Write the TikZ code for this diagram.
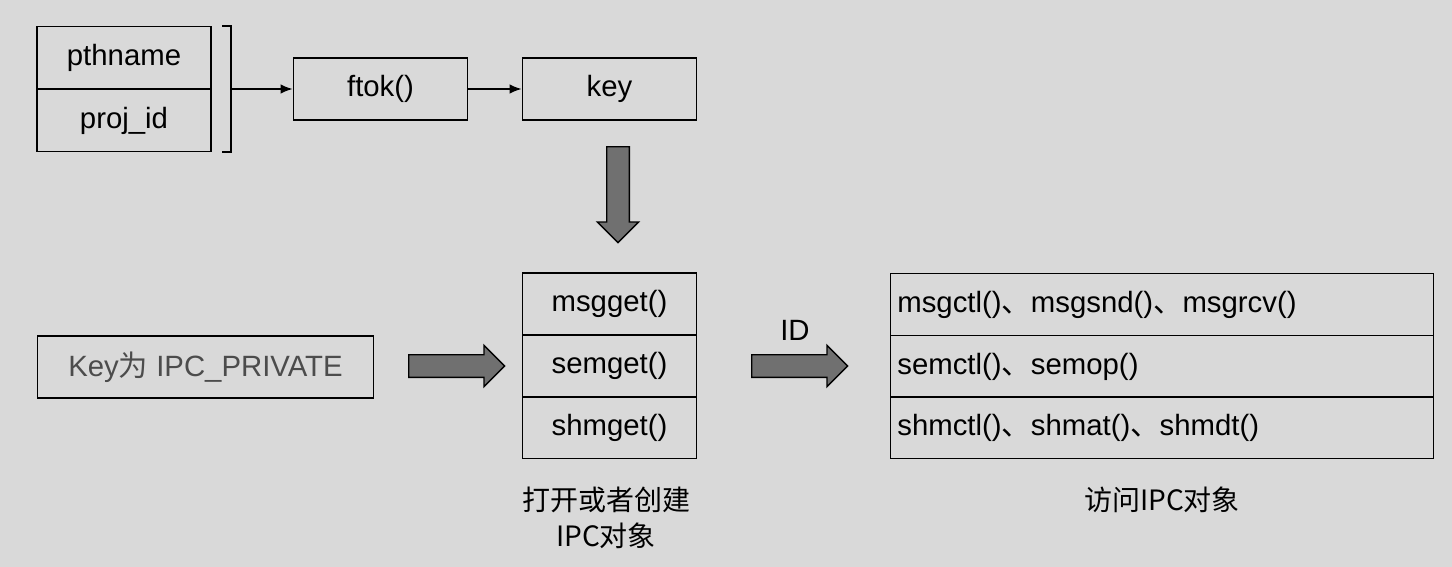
\documentclass[tikz,border=0pt]{standalone}
\usepackage{fontspec}
\setmainfont{Liberation Sans}
\newfontfamily\cjk{Noto Sans CJK SC}
\usetikzlibrary{shapes.arrows,positioning,arrows.meta}
\definecolor{bg}{HTML}{D9D9D9}
\definecolor{fat}{HTML}{707070}
\begin{document}
\begin{tikzpicture}[x=0.75pt,y=-0.75pt,
    font=\fontsize{22}{26}\selectfont,
    cell/.style={draw, line width=1.2pt, minimum width=130.5pt, minimum height=46.5pt, inner sep=0pt},
    wide/.style={draw, line width=1.2pt, minimum width=407pt, minimum height=46.5pt, inner sep=0pt, text width=397pt, align=left},
    fatarrow/.style={single arrow, draw, line width=1pt, fill=fat, minimum height=72pt, minimum width=30pt, single arrow head extend=7pt, inner sep=8pt}]
    \fill[bg] (0,0) rectangle (1452,567);

    % inputs of ftok
    \node [cell] (pth) at (124,57.5) {pthname};
    \node [cell] (proj) at (124,120.5) {proj\_id};
    \draw [line width=1.2pt] (222,26) -- (231,26) -- (231,152) -- (222,152);
    \coordinate (brk) at (231,89);

    % key generation
    \node [cell] (ftok) at (380.5,89) {ftok()};
    \node [cell] (key) at (609.5,89) {key};
    \draw [-{Latex[length=9pt,width=7pt]}, line width=1.2pt] (brk) -- (ftok);
    \draw [-{Latex[length=9pt,width=7pt]}, line width=1.2pt] (ftok) -- (key);

    % get functions
    \node [cell] (msgget) at (609.5,304) {msgget()};
    \node [cell] (semget) at (609.5,366) {semget()};
    \node [cell] (shmget) at (609.5,427.5) {shmget()};
    \node [fatarrow, shape border rotate=270] (down) at (618,189) {};

    % private key
    \node [draw, line width=1.2pt, minimum width=252pt, minimum height=46.5pt, text=black!70] (priv) at (205.5,367) {Key{\cjk 为} IPC\_PRIVATE};
    \node [fatarrow] (right1) at (451,366) {};

    % access functions
    \node [wide] (msgctl) at (1162,304.5) {msgctl(){\cjk 、}msgsnd(){\cjk 、}msgrcv()};
    \node [wide] (semctl) at (1162,366.5) {semctl(){\cjk 、}semop()};
    \node [wide] (shmctl) at (1162,427.5) {shmctl(){\cjk 、}shmat(){\cjk 、}shmdt()};
    \node [fatarrow] (right2) at (794,366) {};
    \node (id) at (795,330) {ID};

    % captions
    \node [align=center, font=\cjk\fontsize{21}{27}\selectfont] (cap1) at (606,518) {打开或者创建\\IPC对象};
    \node [font=\cjk\fontsize{21}{25}\selectfont] (cap2) at (1162,500) {访问IPC对象};
\end{tikzpicture}
\end{document}
